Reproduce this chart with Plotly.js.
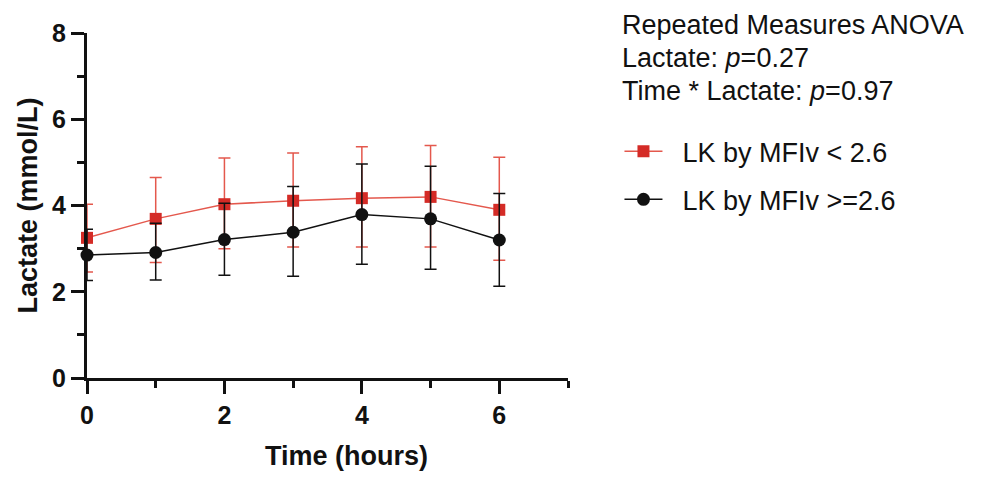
<!DOCTYPE html>
<html>
<head>
<meta charset="utf-8">
<script src="https://cdn.plot.ly/plotly-3.0.1.min.js"></script>
<style>html,body{margin:0;padding:0;background:#fff;}#chart{width:981px;height:477px;}</style>
</head>
<body>
<div id="chart"></div>
<script>
const hours = [0, 1, 2, 3, 4, 5, 6];
const lowMean  = [3.25, 3.69, 4.03, 4.11, 4.17, 4.20, 3.90];
const lowUpper = [4.03, 4.65, 5.10, 5.22, 5.36, 5.39, 5.12];
const lowLower = [2.46, 2.68, 3.00, 3.04, 3.04, 3.04, 2.73];
const highMean  = [2.85, 2.91, 3.21, 3.38, 3.79, 3.69, 3.20];
const highUpper = [3.45, 3.59, 4.05, 4.44, 4.96, 4.91, 4.28];
const highLower = [2.26, 2.27, 2.38, 2.36, 2.64, 2.52, 2.13];
const yTicks = [0, 2, 4, 6, 8];
const xTicks = [0, 2, 4, 6];
const statLines = ["Repeated Measures ANOVA", "Lactate: <i>p</i>=0.27", "Time * Lactate: <i>p</i>=0.97"];
const seriesNames = ["LK by MFIv < 2.6", "LK by MFIv >=2.6"];

const FONT = "Liberation Sans, Arial, Helvetica, sans-serif";
const RED = "#d42b26", REDLINE = "#e4584d";
const PAD = "\u00a0\u00a0";

const traces = [
  {
    x: hours, y: lowMean, name: PAD + seriesNames[0], type: "scatter", mode: "lines+markers",
    legendgroup: "a", cliponaxis: false,
    line: {color: REDLINE, width: 1.5},
    marker: {symbol: "square", size: 12, color: RED},
    error_y: {type: "data", symmetric: false,
      array: lowUpper.map((u, i) => u - lowMean[i]),
      arrayminus: lowLower.map((l, i) => lowMean[i] - l),
      color: REDLINE, thickness: 1.5, width: 6}
  },
  {
    x: hours, y: highMean, name: PAD + seriesNames[1], type: "scatter", mode: "lines+markers",
    legendgroup: "b", cliponaxis: false,
    line: {color: "#111", width: 1.5},
    marker: {symbol: "circle", size: 13, color: "#111"},
    error_y: {type: "data", symmetric: false,
      array: highUpper.map((u, i) => u - highMean[i]),
      arrayminus: highLower.map((l, i) => highMean[i] - l),
      color: "#111", thickness: 1.5, width: 6}
  }
];

const statY = [1.023, 0.9275, 0.832];
const annotations = statLines.map((t, i) => ({
  text: t, xref: "paper", yref: "paper", x: 1.108, y: statY[i],
  xanchor: "left", yanchor: "middle", showarrow: false,
  font: {family: FONT, size: 27, color: "#111"}
}));
annotations.push({
  text: "Time (hours)", xref: "paper", yref: "paper", x: 0.54, y: -0.225,
  xanchor: "center", yanchor: "middle", showarrow: false,
  font: {family: FONT, size: 27, color: "#111", weight: "bold"}
});
annotations.push({
  text: "Lactate (mmol/L)", xref: "paper", yref: "paper", x: -0.1227, y: 0.5,
  xanchor: "center", yanchor: "middle", textangle: -90, showarrow: false,
  font: {family: FONT, size: 27, color: "#111", weight: "bold"}
});

const axisCommon = {
  showgrid: false, zeroline: false, showline: true, linecolor: "#111", linewidth: 3,
  ticks: "outside", ticklen: 13, tickwidth: 3, tickcolor: "#111",
  tickfont: {family: FONT, size: 25, color: "#111", weight: "bold"},
  minor: {ticks: "outside", ticklen: 7, tickwidth: 3, tickcolor: "#111", dtick: 1}
};

const layout = {
  width: 981, height: 477,
  margin: {l: 87, r: 413, t: 33, b: 99},
  paper_bgcolor: "#fff", plot_bgcolor: "#fff",
  showlegend: true,
  legend: {x: 1.107, y: 0.727, xanchor: "left", yanchor: "top",
    traceorder: "grouped", tracegroupgap: 10, itemwidth: 38,
    font: {family: FONT, size: 27, color: "#111"}, bgcolor: "rgba(0,0,0,0)"},
  xaxis: Object.assign({}, axisCommon, {range: [0, 7], tickmode: "array", tickvals: xTicks,
    ticktext: xTicks.map(String)}),
  yaxis: Object.assign({}, axisCommon, {range: [0, 8], tickmode: "array", tickvals: yTicks,
    ticktext: yTicks.map(String)}),
  annotations: annotations
};

Plotly.newPlot("chart", traces, layout, {displayModeBar: false, staticPlot: true});
</script>
</body>
</html>
